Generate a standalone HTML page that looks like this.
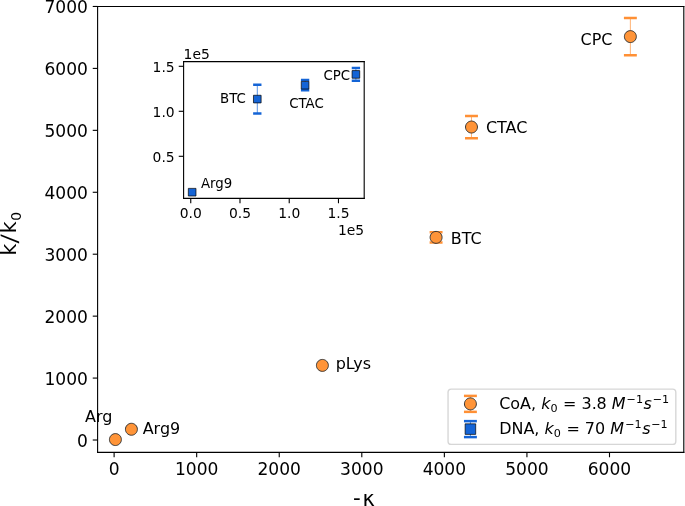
<!DOCTYPE html>
<html><head><meta charset="utf-8"><style>html,body{margin:0;padding:0;background:#fff;overflow:hidden}svg{display:block}</style></head><body>
<svg width="685" height="506" viewBox="0 0 493.2 364.32" version="1.1">
 
 <defs>
  <style type="text/css">*{stroke-linejoin: round; stroke-linecap: butt}</style>
 </defs>
 <g id="figure_1">
  <g id="patch_1">
   <path d="M 0 364.32 
L 493.2 364.32 
L 493.2 0 
L 0 0 
z
" style="fill: #ffffff"/>
  </g>
  <g id="axes_1">
   <g id="patch_2">
    <path d="M 70.272 325.728 
L 492.336 325.728 
L 492.336 4.6584 
L 70.272 4.6584 
z
" style="fill: #ffffff"/>
   </g>
   <g id="matplotlib.axis_1">
    <g id="xtick_1">
     <g id="line2d_1">
      
      <g>
       <path d="M 0 0 
L 0 3.5 
" transform="translate(82.161127 325.728)" style="stroke: #000000; stroke-width: 0.8"/>
      </g>
     </g>
     <g id="text_1">
      <text style="font-size: 12.3px; font-family: 'DejaVu Sans', sans-serif; text-anchor: middle" x="82.161127" y="341.714078" transform="rotate(-0 82.161127 341.714078)">0</text>
     </g>
    </g>
    <g id="xtick_2">
     <g id="line2d_2">
      <g>
       <path d="M 0 0 
L 0 3.5 
" transform="translate(141.606761 325.728)" style="stroke: #000000; stroke-width: 0.8"/>
      </g>
     </g>
     <g id="text_2">
      <text style="font-size: 12.3px; font-family: 'DejaVu Sans', sans-serif; text-anchor: middle" x="141.606761" y="341.714078" transform="rotate(-0 141.606761 341.714078)">1000</text>
     </g>
    </g>
    <g id="xtick_3">
     <g id="line2d_3">
      <g>
       <path d="M 0 0 
L 0 3.5 
" transform="translate(201.052394 325.728)" style="stroke: #000000; stroke-width: 0.8"/>
      </g>
     </g>
     <g id="text_3">
      <text style="font-size: 12.3px; font-family: 'DejaVu Sans', sans-serif; text-anchor: middle" x="201.052394" y="341.714078" transform="rotate(-0 201.052394 341.714078)">2000</text>
     </g>
    </g>
    <g id="xtick_4">
     <g id="line2d_4">
      <g>
       <path d="M 0 0 
L 0 3.5 
" transform="translate(260.498028 325.728)" style="stroke: #000000; stroke-width: 0.8"/>
      </g>
     </g>
     <g id="text_4">
      <text style="font-size: 12.3px; font-family: 'DejaVu Sans', sans-serif; text-anchor: middle" x="260.498028" y="341.714078" transform="rotate(-0 260.498028 341.714078)">3000</text>
     </g>
    </g>
    <g id="xtick_5">
     <g id="line2d_5">
      <g>
       <path d="M 0 0 
L 0 3.5 
" transform="translate(319.943662 325.728)" style="stroke: #000000; stroke-width: 0.8"/>
      </g>
     </g>
     <g id="text_5">
      <text style="font-size: 12.3px; font-family: 'DejaVu Sans', sans-serif; text-anchor: middle" x="319.943662" y="341.714078" transform="rotate(-0 319.943662 341.714078)">4000</text>
     </g>
    </g>
    <g id="xtick_6">
     <g id="line2d_6">
      <g>
       <path d="M 0 0 
L 0 3.5 
" transform="translate(379.389296 325.728)" style="stroke: #000000; stroke-width: 0.8"/>
      </g>
     </g>
     <g id="text_6">
      <text style="font-size: 12.3px; font-family: 'DejaVu Sans', sans-serif; text-anchor: middle" x="379.389296" y="341.714078" transform="rotate(-0 379.389296 341.714078)">5000</text>
     </g>
    </g>
    <g id="xtick_7">
     <g id="line2d_7">
      <g>
       <path d="M 0 0 
L 0 3.5 
" transform="translate(438.83493 325.728)" style="stroke: #000000; stroke-width: 0.8"/>
      </g>
     </g>
     <g id="text_7">
      <text style="font-size: 12.3px; font-family: 'DejaVu Sans', sans-serif; text-anchor: middle" x="438.83493" y="341.714078" transform="rotate(-0 438.83493 341.714078)">6000</text>
     </g>
    </g>
   </g>
   <g id="matplotlib.axis_2">
    <g id="ytick_1">
     <g id="line2d_8">
      
      <g>
       <path d="M 0 0 
L -3.5 0 
" transform="translate(70.272 316.8094)" style="stroke: #000000; stroke-width: 0.8"/>
      </g>
     </g>
     <g id="text_8">
      <text style="font-size: 12.3px; font-family: 'DejaVu Sans', sans-serif; text-anchor: end" x="63.272" y="321.482439" transform="rotate(-0 63.272 321.482439)">0</text>
     </g>
    </g>
    <g id="ytick_2">
     <g id="line2d_9">
      <g>
       <path d="M 0 0 
L -3.5 0 
" transform="translate(70.272 272.2164)" style="stroke: #000000; stroke-width: 0.8"/>
      </g>
     </g>
     <g id="text_9">
      <text style="font-size: 12.3px; font-family: 'DejaVu Sans', sans-serif; text-anchor: end" x="63.272" y="276.889439" transform="rotate(-0 63.272 276.889439)">1000</text>
     </g>
    </g>
    <g id="ytick_3">
     <g id="line2d_10">
      <g>
       <path d="M 0 0 
L -3.5 0 
" transform="translate(70.272 227.6234)" style="stroke: #000000; stroke-width: 0.8"/>
      </g>
     </g>
     <g id="text_10">
      <text style="font-size: 12.3px; font-family: 'DejaVu Sans', sans-serif; text-anchor: end" x="63.272" y="232.296439" transform="rotate(-0 63.272 232.296439)">2000</text>
     </g>
    </g>
    <g id="ytick_4">
     <g id="line2d_11">
      <g>
       <path d="M 0 0 
L -3.5 0 
" transform="translate(70.272 183.0304)" style="stroke: #000000; stroke-width: 0.8"/>
      </g>
     </g>
     <g id="text_11">
      <text style="font-size: 12.3px; font-family: 'DejaVu Sans', sans-serif; text-anchor: end" x="63.272" y="187.703439" transform="rotate(-0 63.272 187.703439)">3000</text>
     </g>
    </g>
    <g id="ytick_5">
     <g id="line2d_12">
      <g>
       <path d="M 0 0 
L -3.5 0 
" transform="translate(70.272 138.4374)" style="stroke: #000000; stroke-width: 0.8"/>
      </g>
     </g>
     <g id="text_12">
      <text style="font-size: 12.3px; font-family: 'DejaVu Sans', sans-serif; text-anchor: end" x="63.272" y="143.110439" transform="rotate(-0 63.272 143.110439)">4000</text>
     </g>
    </g>
    <g id="ytick_6">
     <g id="line2d_13">
      <g>
       <path d="M 0 0 
L -3.5 0 
" transform="translate(70.272 93.8444)" style="stroke: #000000; stroke-width: 0.8"/>
      </g>
     </g>
     <g id="text_13">
      <text style="font-size: 12.3px; font-family: 'DejaVu Sans', sans-serif; text-anchor: end" x="63.272" y="98.517439" transform="rotate(-0 63.272 98.517439)">5000</text>
     </g>
    </g>
    <g id="ytick_7">
     <g id="line2d_14">
      <g>
       <path d="M 0 0 
L -3.5 0 
" transform="translate(70.272 49.2514)" style="stroke: #000000; stroke-width: 0.8"/>
      </g>
     </g>
     <g id="text_14">
      <text style="font-size: 12.3px; font-family: 'DejaVu Sans', sans-serif; text-anchor: end" x="63.272" y="53.924439" transform="rotate(-0 63.272 53.924439)">6000</text>
     </g>
    </g>
    <g id="ytick_8">
     <g id="line2d_15">
      <g>
       <path d="M 0 0 
L -3.5 0 
" transform="translate(70.272 4.6584)" style="stroke: #000000; stroke-width: 0.8"/>
      </g>
     </g>
     <g id="text_15">
      <text style="font-size: 12.3px; font-family: 'DejaVu Sans', sans-serif; text-anchor: end" x="63.272" y="9.331439" transform="rotate(-0 63.272 9.331439)">7000</text>
     </g>
    </g>
   </g>
   <g id="line2d_16">
    
    <g clip-path="url(#pdfe9586ccd)">
     <path d="M 0 4.3 
C 1.140373 4.3 2.234193 3.846925 3.040559 3.040559 
C 3.846925 2.234193 4.3 1.140373 4.3 0 
C 4.3 -1.140373 3.846925 -2.234193 3.040559 -3.040559 
C 2.234193 -3.846925 1.140373 -4.3 0 -4.3 
C -1.140373 -4.3 -2.234193 -3.846925 -3.040559 -3.040559 
C -3.846925 -2.234193 -4.3 -1.140373 -4.3 0 
C -4.3 1.140373 -3.846925 2.234193 -3.040559 3.040559 
C -2.234193 3.846925 -1.140373 4.3 0 4.3 
z
" transform="translate(83.097052 316.485584)" style="fill: #ff9438; stroke: #333333; stroke-width: 0.7"/>
    </g>
   </g>
   <g id="line2d_17">
    <g clip-path="url(#pdfe9586ccd)">
     <path d="M 0 4.3 
C 1.140373 4.3 2.234193 3.846925 3.040559 3.040559 
C 3.846925 2.234193 4.3 1.140373 4.3 0 
C 4.3 -1.140373 3.846925 -2.234193 3.040559 -3.040559 
C 2.234193 -3.846925 1.140373 -4.3 0 -4.3 
C -1.140373 -4.3 -2.234193 -3.846925 -3.040559 -3.040559 
C -3.846925 -2.234193 -4.3 -1.140373 -4.3 0 
C -4.3 1.140373 -3.846925 2.234193 -3.040559 3.040559 
C -2.234193 3.846925 -1.140373 4.3 0 4.3 
z
" transform="translate(94.616128 309.073806)" style="fill: #ff9438; stroke: #333333; stroke-width: 0.7"/>
    </g>
   </g>
   <g id="line2d_18">
    <g clip-path="url(#pdfe9586ccd)">
     <path d="M 0 4.3 
C 1.140373 4.3 2.234193 3.846925 3.040559 3.040559 
C 3.846925 2.234193 4.3 1.140373 4.3 0 
C 4.3 -1.140373 3.846925 -2.234193 3.040559 -3.040559 
C 2.234193 -3.846925 1.140373 -4.3 0 -4.3 
C -1.140373 -4.3 -2.234193 -3.846925 -3.040559 -3.040559 
C -3.846925 -2.234193 -4.3 -1.140373 -4.3 0 
C -4.3 1.140373 -3.846925 2.234193 -3.040559 3.040559 
C -2.234193 3.846925 -1.140373 4.3 0 4.3 
z
" transform="translate(232.125103 263.091997)" style="fill: #ff9438; stroke: #333333; stroke-width: 0.7"/>
    </g>
   </g>
   <g id="LineCollection_1">
    <path d="M 313.98254 174.654371 
L 313.98254 167.170634 
" clip-path="url(#pdfe9586ccd)" style="fill: none; stroke: #ff9035; stroke-width: 0.5"/>
   </g>
   <g id="line2d_19">
    
    <g clip-path="url(#pdfe9586ccd)">
     <path d="M 4.65 0 
L -4.65 -0 
" transform="translate(313.98254 174.654371)" style="fill: #ff9035; stroke: #ff9035; stroke-width: 1.8"/>
    </g>
   </g>
   <g id="line2d_20">
    <g clip-path="url(#pdfe9586ccd)">
     <path d="M 4.65 0 
L -4.65 -0 
" transform="translate(313.98254 167.170634)" style="fill: #ff9035; stroke: #ff9035; stroke-width: 1.8"/>
    </g>
   </g>
   <g id="LineCollection_2">
    <path d="M 339.468497 99.493182 
L 339.468497 83.446323 
" clip-path="url(#pdfe9586ccd)" style="fill: none; stroke: #ff9035; stroke-width: 0.5"/>
   </g>
   <g id="line2d_21">
    <g clip-path="url(#pdfe9586ccd)">
     <path d="M 4.65 0 
L -4.65 -0 
" transform="translate(339.468497 99.493182)" style="fill: #ff9035; stroke: #ff9035; stroke-width: 1.8"/>
    </g>
   </g>
   <g id="line2d_22">
    <g clip-path="url(#pdfe9586ccd)">
     <path d="M 4.65 0 
L -4.65 -0 
" transform="translate(339.468497 83.446323)" style="fill: #ff9035; stroke: #ff9035; stroke-width: 1.8"/>
    </g>
   </g>
   <g id="LineCollection_3">
    <path d="M 453.867324 39.803182 
L 453.867324 12.890511 
" clip-path="url(#pdfe9586ccd)" style="fill: none; stroke: #ff9035; stroke-width: 0.5"/>
   </g>
   <g id="line2d_23">
    <g clip-path="url(#pdfe9586ccd)">
     <path d="M 4.65 0 
L -4.65 -0 
" transform="translate(453.867324 39.803182)" style="fill: #ff9035; stroke: #ff9035; stroke-width: 1.8"/>
    </g>
   </g>
   <g id="line2d_24">
    <g clip-path="url(#pdfe9586ccd)">
     <path d="M 4.65 0 
L -4.65 -0 
" transform="translate(453.867324 12.890511)" style="fill: #ff9035; stroke: #ff9035; stroke-width: 1.8"/>
    </g>
   </g>
   <g id="LineCollection_4">
    <path clip-path="url(#pdfe9586ccd)" style="fill: none; stroke: #ff9035; stroke-width: 0.5"/>
   </g>
   <g id="line2d_25">
    <g clip-path="url(#pdfe9586ccd)"/>
   </g>
   <g id="line2d_26">
    <g clip-path="url(#pdfe9586ccd)"/>
   </g>
   <g id="LineCollection_5">
    <path clip-path="url(#pdfe9586ccd)" style="fill: none; stroke: #1464d6; stroke-width: 0.5"/>
   </g>
   <g id="line2d_27">
    
    <g clip-path="url(#pdfe9586ccd)"/>
   </g>
   <g id="line2d_28">
    <g clip-path="url(#pdfe9586ccd)"/>
   </g>
   <g id="line2d_29">
    <g clip-path="url(#pdfe9586ccd)">
     <path d="M 0 4.3 
C 1.140373 4.3 2.234193 3.846925 3.040559 3.040559 
C 3.846925 2.234193 4.3 1.140373 4.3 0 
C 4.3 -1.140373 3.846925 -2.234193 3.040559 -3.040559 
C 2.234193 -3.846925 1.140373 -4.3 0 -4.3 
C -1.140373 -4.3 -2.234193 -3.846925 -3.040559 -3.040559 
C -3.846925 -2.234193 -4.3 -1.140373 -4.3 0 
C -4.3 1.140373 -3.846925 2.234193 -3.040559 3.040559 
C -2.234193 3.846925 -1.140373 4.3 0 4.3 
z
" transform="translate(313.98254 170.912502)" style="fill: #ff9438; stroke: #333333; stroke-width: 0.7"/>
    </g>
   </g>
   <g id="line2d_30">
    <g clip-path="url(#pdfe9586ccd)">
     <path d="M 0 4.3 
C 1.140373 4.3 2.234193 3.846925 3.040559 3.040559 
C 3.846925 2.234193 4.3 1.140373 4.3 0 
C 4.3 -1.140373 3.846925 -2.234193 3.040559 -3.040559 
C 2.234193 -3.846925 1.140373 -4.3 0 -4.3 
C -1.140373 -4.3 -2.234193 -3.846925 -3.040559 -3.040559 
C -3.846925 -2.234193 -4.3 -1.140373 -4.3 0 
C -4.3 1.140373 -3.846925 2.234193 -3.040559 3.040559 
C -2.234193 3.846925 -1.140373 4.3 0 4.3 
z
" transform="translate(339.468497 91.469753)" style="fill: #ff9438; stroke: #333333; stroke-width: 0.7"/>
    </g>
   </g>
   <g id="line2d_31">
    <g clip-path="url(#pdfe9586ccd)">
     <path d="M 0 4.3 
C 1.140373 4.3 2.234193 3.846925 3.040559 3.040559 
C 3.846925 2.234193 4.3 1.140373 4.3 0 
C 4.3 -1.140373 3.846925 -2.234193 3.040559 -3.040559 
C 2.234193 -3.846925 1.140373 -4.3 0 -4.3 
C -1.140373 -4.3 -2.234193 -3.846925 -3.040559 -3.040559 
C -3.846925 -2.234193 -4.3 -1.140373 -4.3 0 
C -4.3 1.140373 -3.846925 2.234193 -3.040559 3.040559 
C -2.234193 3.846925 -1.140373 4.3 0 4.3 
z
" transform="translate(453.867324 26.346846)" style="fill: #ff9438; stroke: #333333; stroke-width: 0.7"/>
    </g>
   </g>
   <g id="line2d_32">
    <g clip-path="url(#pdfe9586ccd)"/>
   </g>
   <g id="line2d_33">
    
    <g clip-path="url(#pdfe9586ccd)"/>
   </g>
   <g id="patch_3">
    <path d="M 70.272 325.728 
L 70.272 4.6584 
" style="fill: none; stroke: #000000; stroke-width: 0.8; stroke-linejoin: miter; stroke-linecap: square"/>
   </g>
   <g id="patch_4">
    <path d="M 492.336 325.728 
L 492.336 4.6584 
" style="fill: none; stroke: #000000; stroke-width: 0.8; stroke-linejoin: miter; stroke-linecap: square"/>
   </g>
   <g id="patch_5">
    <path d="M 70.272 325.728 
L 492.336 325.728 
" style="fill: none; stroke: #000000; stroke-width: 0.8; stroke-linejoin: miter; stroke-linecap: square"/>
   </g>
   <g id="patch_6">
    <path d="M 70.272 4.6584 
L 492.336 4.6584 
" style="fill: none; stroke: #000000; stroke-width: 0.8; stroke-linejoin: miter; stroke-linecap: square"/>
   </g>
   <g id="text_16">
    <text style="font-size: 11.5px; font-family: 'DejaVu Sans', sans-serif; text-anchor: start" x="418.016447" y="32.103567" transform="rotate(-0 418.016447 32.103567)">CPC</text>
   </g>
   <g id="text_17">
    <text style="font-size: 11.5px; font-family: 'DejaVu Sans', sans-serif; text-anchor: start" x="349.837913" y="96.00317" transform="rotate(-0 349.837913 96.00317)">CTAC</text>
   </g>
   <g id="text_18">
    <text style="font-size: 11.5px; font-family: 'DejaVu Sans', sans-serif; text-anchor: start" x="324.589027" y="175.949633" transform="rotate(-0 324.589027 175.949633)">BTC</text>
   </g>
   <g id="text_19">
    <text style="font-size: 11.5px; font-family: 'DejaVu Sans', sans-serif; text-anchor: start" x="241.735899" y="265.898399" transform="rotate(-0 241.735899 265.898399)">pLys</text>
   </g>
   <g id="text_20">
    <text style="font-size: 11.5px; font-family: 'DejaVu Sans', sans-serif; text-anchor: start" x="102.733634" y="312.671757" transform="rotate(-0 102.733634 312.671757)">Arg9</text>
   </g>
   <g id="text_21">
    <text style="font-size: 11.5px; font-family: 'DejaVu Sans', sans-serif; text-anchor: start" x="61.264958" y="303.748839" transform="rotate(-0 61.264958 303.748839)">Arg</text>
   </g>
   <g id="legend_1">
    <g id="patch_7">
     <path d="M 324.896 319.978 
L 484.286 319.978 
Q 486.586 319.978 486.586 317.678 
L 486.586 282.488 
Q 486.586 280.188 484.286 280.188 
L 324.896 280.188 
Q 322.596 280.188 322.596 282.488 
L 322.596 317.678 
Q 322.596 319.978 324.896 319.978 
z
" style="fill: #ffffff; opacity: 0.8; stroke: #cccccc; stroke-linejoin: miter"/>
    </g>
    <g id="LineCollection_6">
     <path d="M 338.696 296.541359 
L 338.696 285.041359 
" style="fill: none; stroke: #ff9035; stroke-width: 0.5"/>
    </g>
    <g id="line2d_34">
     <g>
      <path d="M 4.65 0 
L -4.65 -0 
" transform="translate(338.696 296.541359)" style="fill: #ff9035; stroke: #ff9035; stroke-width: 1.8"/>
     </g>
    </g>
    <g id="line2d_35">
     <g>
      <path d="M 4.65 0 
L -4.65 -0 
" transform="translate(338.696 285.041359)" style="fill: #ff9035; stroke: #ff9035; stroke-width: 1.8"/>
     </g>
    </g>
    <g id="line2d_36"/>
    <g id="line2d_37">
     <g>
      <path d="M 0 4.3 
C 1.140373 4.3 2.234193 3.846925 3.040559 3.040559 
C 3.846925 2.234193 4.3 1.140373 4.3 0 
C 4.3 -1.140373 3.846925 -2.234193 3.040559 -3.040559 
C 2.234193 -3.846925 1.140373 -4.3 0 -4.3 
C -1.140373 -4.3 -2.234193 -3.846925 -3.040559 -3.040559 
C -3.846925 -2.234193 -4.3 -1.140373 -4.3 0 
C -4.3 1.140373 -3.846925 2.234193 -3.040559 3.040559 
C -2.234193 3.846925 -1.140373 4.3 0 4.3 
z
" transform="translate(338.696 290.791359)" style="fill: #ff9438; stroke: #333333; stroke-width: 0.7"/>
     </g>
    </g>
    <g id="text_22">
     <!-- CoA, $k_0$ = 3.8 $M^{-1}s^{-1}$ -->
     <g transform="translate(359.396 294.816359)">
      <text>
       <tspan x="0" y="-0.28125" style="font-size: 11.5px; font-family: 'DejaVu Sans', sans-serif">C</tspan>
       <tspan x="8.029785" y="-0.28125" style="font-size: 11.5px; font-family: 'DejaVu Sans', sans-serif">o</tspan>
       <tspan x="15.065674" y="-0.28125" style="font-size: 11.5px; font-family: 'DejaVu Sans', sans-serif">A</tspan>
       <tspan x="22.932617" y="-0.28125" style="font-size: 11.5px; font-family: 'DejaVu Sans', sans-serif">,</tspan>
       <tspan x="26.588135" y="-0.28125" style="font-size: 11.5px; font-family: 'DejaVu Sans', sans-serif"> </tspan>
       <tspan x="42.353101" y="-0.28125" style="font-size: 11.5px; font-family: 'DejaVu Sans', sans-serif"> </tspan>
       <tspan x="46.008618" y="-0.28125" style="font-size: 11.5px; font-family: 'DejaVu Sans', sans-serif">=</tspan>
       <tspan x="55.64436" y="-0.28125" style="font-size: 11.5px; font-family: 'DejaVu Sans', sans-serif"> </tspan>
       <tspan x="59.299878" y="-0.28125" style="font-size: 11.5px; font-family: 'DejaVu Sans', sans-serif">3</tspan>
       <tspan x="66.616528" y="-0.28125" style="font-size: 11.5px; font-family: 'DejaVu Sans', sans-serif">.</tspan>
       <tspan x="70.022046" y="-0.28125" style="font-size: 11.5px; font-family: 'DejaVu Sans', sans-serif">8</tspan>
       <tspan x="77.338696" y="-0.28125" style="font-size: 11.5px; font-family: 'DejaVu Sans', sans-serif"> </tspan>
       <tspan x="30.243652" y="-0.28125" style="font-style: oblique; font-size: 11.5px; font-family: 'DejaVu Sans', sans-serif">k</tspan>
       <tspan x="80.994214" y="-0.28125" style="font-style: oblique; font-size: 11.5px; font-family: 'DejaVu Sans', sans-serif">M</tspan>
       <tspan x="103.95332" y="-0.28125" style="font-style: oblique; font-size: 11.5px; font-family: 'DejaVu Sans', sans-serif">s</tspan>
       <tspan x="36.90332" y="1.6875" style="font-size: 8.05px; font-family: 'DejaVu Sans', sans-serif">0</tspan>
       <tspan x="91.758521" y="-4.875" style="font-size: 8.05px; font-family: 'DejaVu Sans', sans-serif">−</tspan>
       <tspan x="98.50354" y="-4.875" style="font-size: 8.05px; font-family: 'DejaVu Sans', sans-serif">1</tspan>
       <tspan x="110.502588" y="-4.875" style="font-size: 8.05px; font-family: 'DejaVu Sans', sans-serif">−</tspan>
       <tspan x="117.247607" y="-4.875" style="font-size: 8.05px; font-family: 'DejaVu Sans', sans-serif">1</tspan>
      </text>
     </g>
    </g>
    <g id="LineCollection_7">
     <path d="M 338.696 314.711359 
L 338.696 303.211359 
" style="fill: none; stroke: #1464d6; stroke-width: 0.5"/>
    </g>
    <g id="line2d_38">
     <g>
      <path d="M 4.65 0 
L -4.65 -0 
" transform="translate(338.696 314.711359)" style="fill: #1464d6; stroke: #1464d6; stroke-width: 1.8"/>
     </g>
    </g>
    <g id="line2d_39">
     <g>
      <path d="M 4.65 0 
L -4.65 -0 
" transform="translate(338.696 303.211359)" style="fill: #1464d6; stroke: #1464d6; stroke-width: 1.8"/>
     </g>
    </g>
    <g id="line2d_40"/>
    <g id="line2d_41">
     <g>
      <path d="M -3.8 3.8 
L 3.8 3.8 
L 3.8 -3.8 
L -3.8 -3.8 
z
" transform="translate(338.696 308.961359)" style="fill: #1464d6; stroke: #000000; stroke-width: 0.5; stroke-linejoin: miter"/>
     </g>
    </g>
    <g id="text_23">
     <!-- DNA, $k_0$ = 70 $M^{-1}s^{-1}$ -->
     <g transform="translate(359.396 312.986359)">
      <text>
       <tspan x="0" y="-0.28125" style="font-size: 11.5px; font-family: 'DejaVu Sans', sans-serif">D</tspan>
       <tspan x="8.855225" y="-0.28125" style="font-size: 11.5px; font-family: 'DejaVu Sans', sans-serif">N</tspan>
       <tspan x="17.457764" y="-0.28125" style="font-size: 11.5px; font-family: 'DejaVu Sans', sans-serif">A</tspan>
       <tspan x="25.324707" y="-0.28125" style="font-size: 11.5px; font-family: 'DejaVu Sans', sans-serif">,</tspan>
       <tspan x="28.980225" y="-0.28125" style="font-size: 11.5px; font-family: 'DejaVu Sans', sans-serif"> </tspan>
       <tspan x="44.74519" y="-0.28125" style="font-size: 11.5px; font-family: 'DejaVu Sans', sans-serif"> </tspan>
       <tspan x="48.400708" y="-0.28125" style="font-size: 11.5px; font-family: 'DejaVu Sans', sans-serif">=</tspan>
       <tspan x="58.03645" y="-0.28125" style="font-size: 11.5px; font-family: 'DejaVu Sans', sans-serif"> </tspan>
       <tspan x="61.691968" y="-0.28125" style="font-size: 11.5px; font-family: 'DejaVu Sans', sans-serif">7</tspan>
       <tspan x="69.008618" y="-0.28125" style="font-size: 11.5px; font-family: 'DejaVu Sans', sans-serif">0</tspan>
       <tspan x="76.325269" y="-0.28125" style="font-size: 11.5px; font-family: 'DejaVu Sans', sans-serif"> </tspan>
       <tspan x="32.635742" y="-0.28125" style="font-style: oblique; font-size: 11.5px; font-family: 'DejaVu Sans', sans-serif">k</tspan>
       <tspan x="79.980786" y="-0.28125" style="font-style: oblique; font-size: 11.5px; font-family: 'DejaVu Sans', sans-serif">M</tspan>
       <tspan x="102.939893" y="-0.28125" style="font-style: oblique; font-size: 11.5px; font-family: 'DejaVu Sans', sans-serif">s</tspan>
       <tspan x="39.29541" y="1.6875" style="font-size: 8.05px; font-family: 'DejaVu Sans', sans-serif">0</tspan>
       <tspan x="90.745093" y="-4.875" style="font-size: 8.05px; font-family: 'DejaVu Sans', sans-serif">−</tspan>
       <tspan x="97.490112" y="-4.875" style="font-size: 8.05px; font-family: 'DejaVu Sans', sans-serif">1</tspan>
       <tspan x="109.48916" y="-4.875" style="font-size: 8.05px; font-family: 'DejaVu Sans', sans-serif">−</tspan>
       <tspan x="116.23418" y="-4.875" style="font-size: 8.05px; font-family: 'DejaVu Sans', sans-serif">1</tspan>
      </text>
     </g>
    </g>
   </g>
  </g>
  <g id="axes_2">
   <g id="patch_8">
    <path d="M 132.192 142.848 
L 262.224 142.848 
L 262.224 44.352 
L 132.192 44.352 
z
" style="fill: #ffffff"/>
   </g>
   <g id="matplotlib.axis_3">
    <g id="xtick_8">
     <g id="line2d_42">
      <g>
       <path d="M 0 0 
L 0 3.5 
" transform="translate(137.34 142.848)" style="stroke: #000000; stroke-width: 0.8"/>
      </g>
     </g>
     <g id="text_24">
      <text style="font-size: 10px; font-family: 'DejaVu Sans', sans-serif; text-anchor: middle" x="137.34" y="156.946437" transform="rotate(-0 137.34 156.946437)">0.0</text>
     </g>
    </g>
    <g id="xtick_9">
     <g id="line2d_43">
      <g>
       <path d="M 0 0 
L 0 3.5 
" transform="translate(172.7928 142.848)" style="stroke: #000000; stroke-width: 0.8"/>
      </g>
     </g>
     <g id="text_25">
      <text style="font-size: 10px; font-family: 'DejaVu Sans', sans-serif; text-anchor: middle" x="172.7928" y="156.946437" transform="rotate(-0 172.7928 156.946437)">0.5</text>
     </g>
    </g>
    <g id="xtick_10">
     <g id="line2d_44">
      <g>
       <path d="M 0 0 
L 0 3.5 
" transform="translate(208.2456 142.848)" style="stroke: #000000; stroke-width: 0.8"/>
      </g>
     </g>
     <g id="text_26">
      <text style="font-size: 10px; font-family: 'DejaVu Sans', sans-serif; text-anchor: middle" x="208.2456" y="156.946437" transform="rotate(-0 208.2456 156.946437)">1.0</text>
     </g>
    </g>
    <g id="xtick_11">
     <g id="line2d_45">
      <g>
       <path d="M 0 0 
L 0 3.5 
" transform="translate(243.6984 142.848)" style="stroke: #000000; stroke-width: 0.8"/>
      </g>
     </g>
     <g id="text_27">
      <text style="font-size: 10px; font-family: 'DejaVu Sans', sans-serif; text-anchor: middle" x="243.6984" y="156.946437" transform="rotate(-0 243.6984 156.946437)">1.5</text>
     </g>
    </g>
    <g id="text_28">
     <text style="font-size: 10px; font-family: 'DejaVu Sans', sans-serif; text-anchor: end" x="262.2240" y="169.3366" transform="rotate(-0 262.2240 169.3366)">1e5</text>
    </g>
   </g>
   <g id="matplotlib.axis_4">
    <g id="ytick_9">
     <g id="line2d_46">
      <g>
       <path d="M 0 0 
L -3.5 0 
" transform="translate(132.192 112.536)" style="stroke: #000000; stroke-width: 0.8"/>
      </g>
     </g>
     <g id="text_29">
      <text style="font-size: 10px; font-family: 'DejaVu Sans', sans-serif; text-anchor: end" x="125.772" y="116.335219" transform="rotate(-0 125.772 116.335219)">0.5</text>
     </g>
    </g>
    <g id="ytick_10">
     <g id="line2d_47">
      <g>
       <path d="M 0 0 
L -3.5 0 
" transform="translate(132.192 80.136)" style="stroke: #000000; stroke-width: 0.8"/>
      </g>
     </g>
     <g id="text_30">
      <text style="font-size: 10px; font-family: 'DejaVu Sans', sans-serif; text-anchor: end" x="125.772" y="83.935219" transform="rotate(-0 125.772 83.935219)">1.0</text>
     </g>
    </g>
    <g id="ytick_11">
     <g id="line2d_48">
      <g>
       <path d="M 0 0 
L -3.5 0 
" transform="translate(132.192 47.736)" style="stroke: #000000; stroke-width: 0.8"/>
      </g>
     </g>
     <g id="text_31">
      <text style="font-size: 10px; font-family: 'DejaVu Sans', sans-serif; text-anchor: end" x="125.772" y="51.535219" transform="rotate(-0 125.772 51.535219)">1.5</text>
     </g>
    </g>
    <g id="text_32">
     <text style="font-size: 10px; font-family: 'DejaVu Sans', sans-serif; text-anchor: start" x="132.1920" y="42.2160" transform="rotate(-0 132.1920 42.2160)">1e5</text>
    </g>
   </g>
   <g id="line2d_49">
    
    <g clip-path="url(#p25e039d8e9)">
     <path d="M -2.75 2.75 
L 2.75 2.75 
L 2.75 -2.75 
L -2.75 -2.75 
z
" transform="translate(138.348 138.384)" style="fill: #1464d6; stroke: #000000; stroke-width: 0.5; stroke-linejoin: miter"/>
    </g>
   </g>
   <g id="LineCollection_8">
    <path d="M 185.256 81.684 
L 185.256 61.02 
" clip-path="url(#p25e039d8e9)" style="fill: none; stroke: #1464d6; stroke-width: 0.5"/>
   </g>
   <g id="line2d_50">
    
    <g clip-path="url(#p25e039d8e9)">
     <path d="M 3 0 
L -3 -0 
" transform="translate(185.256 81.684)" style="fill: #1464d6; stroke: #1464d6; stroke-width: 1.8"/>
    </g>
   </g>
   <g id="line2d_51">
    <g clip-path="url(#p25e039d8e9)">
     <path d="M 3 0 
L -3 -0 
" transform="translate(185.256 61.02)" style="fill: #1464d6; stroke: #1464d6; stroke-width: 1.8"/>
    </g>
   </g>
   <g id="LineCollection_9">
    <path d="M 219.672 65.016 
L 219.672 57.672 
" clip-path="url(#p25e039d8e9)" style="fill: none; stroke: #1464d6; stroke-width: 0.5"/>
   </g>
   <g id="line2d_52">
    <g clip-path="url(#p25e039d8e9)">
     <path d="M 3 0 
L -3 -0 
" transform="translate(219.672 65.016)" style="fill: #1464d6; stroke: #1464d6; stroke-width: 1.8"/>
    </g>
   </g>
   <g id="line2d_53">
    <g clip-path="url(#p25e039d8e9)">
     <path d="M 3 0 
L -3 -0 
" transform="translate(219.672 57.672)" style="fill: #1464d6; stroke: #1464d6; stroke-width: 1.8"/>
    </g>
   </g>
   <g id="LineCollection_10">
    <path d="M 256.248 58.104 
L 256.248 49.032 
" clip-path="url(#p25e039d8e9)" style="fill: none; stroke: #1464d6; stroke-width: 0.5"/>
   </g>
   <g id="line2d_54">
    <g clip-path="url(#p25e039d8e9)">
     <path d="M 3 0 
L -3 -0 
" transform="translate(256.248 58.104)" style="fill: #1464d6; stroke: #1464d6; stroke-width: 1.8"/>
    </g>
   </g>
   <g id="line2d_55">
    <g clip-path="url(#p25e039d8e9)">
     <path d="M 3 0 
L -3 -0 
" transform="translate(256.248 49.032)" style="fill: #1464d6; stroke: #1464d6; stroke-width: 1.8"/>
    </g>
   </g>
   <g id="line2d_56">
    <g clip-path="url(#p25e039d8e9)">
     <path d="M -2.75 2.75 
L 2.75 2.75 
L 2.75 -2.75 
L -2.75 -2.75 
z
" transform="translate(185.256 71.352)" style="fill: #1464d6; stroke: #000000; stroke-width: 0.5; stroke-linejoin: miter"/>
    </g>
   </g>
   <g id="line2d_57">
    <g clip-path="url(#p25e039d8e9)">
     <path d="M -2.75 2.75 
L 2.75 2.75 
L 2.75 -2.75 
L -2.75 -2.75 
z
" transform="translate(219.672 61.344)" style="fill: #1464d6; stroke: #000000; stroke-width: 0.5; stroke-linejoin: miter"/>
    </g>
   </g>
   <g id="line2d_58">
    <g clip-path="url(#p25e039d8e9)">
     <path d="M -2.75 2.75 
L 2.75 2.75 
L 2.75 -2.75 
L -2.75 -2.75 
z
" transform="translate(256.248 53.568)" style="fill: #1464d6; stroke: #000000; stroke-width: 0.5; stroke-linejoin: miter"/>
    </g>
   </g>
   <g id="patch_9">
    <path d="M 132.192 142.848 
L 132.192 44.352 
" style="fill: none; stroke: #000000; stroke-width: 0.8; stroke-linejoin: miter; stroke-linecap: square"/>
   </g>
   <g id="patch_10">
    <path d="M 262.224 142.848 
L 262.224 44.352 
" style="fill: none; stroke: #000000; stroke-width: 0.8; stroke-linejoin: miter; stroke-linecap: square"/>
   </g>
   <g id="patch_11">
    <path d="M 132.192 142.848 
L 262.224 142.848 
" style="fill: none; stroke: #000000; stroke-width: 0.8; stroke-linejoin: miter; stroke-linecap: square"/>
   </g>
   <g id="patch_12">
    <path d="M 132.192 44.352 
L 262.224 44.352 
" style="fill: none; stroke: #000000; stroke-width: 0.8; stroke-linejoin: miter; stroke-linecap: square"/>
   </g>
   <g id="text_33">
    <text style="font-size: 9.6px; font-family: 'DejaVu Sans', sans-serif; text-anchor: start" x="144.717" y="135.648" transform="rotate(-0 144.717 135.648)">Arg9</text>
   </g>
   <g id="text_34">
    <text style="font-size: 9.6px; font-family: 'DejaVu Sans', sans-serif; text-anchor: start" x="158.465812" y="74.376" transform="rotate(-0 158.465812 74.376)">BTC</text>
   </g>
   <g id="text_35">
    <text style="font-size: 9.6px; font-family: 'DejaVu Sans', sans-serif; text-anchor: start" x="208.188937" y="77.544" transform="rotate(-0 208.188937 77.544)">CTAC</text>
   </g>
   <g id="text_36">
    <text style="font-size: 9.6px; font-family: 'DejaVu Sans', sans-serif; text-anchor: start" x="232.884937" y="57.456" transform="rotate(-0 232.884937 57.456)">CPC</text>
   </g>
  </g>
 </g>
 <defs>
  <clipPath id="pdfe9586ccd">
   <rect x="70.272" y="4.6584" width="422.064" height="321.0696"/>
  </clipPath>
  <clipPath id="p25e039d8e9">
   <rect x="132.192" y="44.352" width="130.032" height="98.496"/>
  </clipPath>
 </defs>
<g transform="scale(0.72)"><g style="font-family:'DejaVu Sans',sans-serif;fill:#000">
<text x="353.05" y="504.9" style="font-size:21.5px">-</text>
<text x="362.4" y="505.6" style="font-size:21px">κ</text>
<text transform="translate(15.8 255.6) rotate(-90)" style="font-size:20.5px">k</text>
<text transform="translate(9.6 238.8) rotate(-90) skewX(-5) translate(-3.79 7.16)" style="font-size:22.5px">/</text>
<text transform="translate(15.9 233.2) rotate(-90)" style="font-size:20.5px">k</text>
<text transform="translate(15.56 216.44) rotate(-90) scale(0.96 1) translate(-4.61 5.28)" style="font-size:14.5px">0</text>
</g>
</g></svg>

</body></html>
